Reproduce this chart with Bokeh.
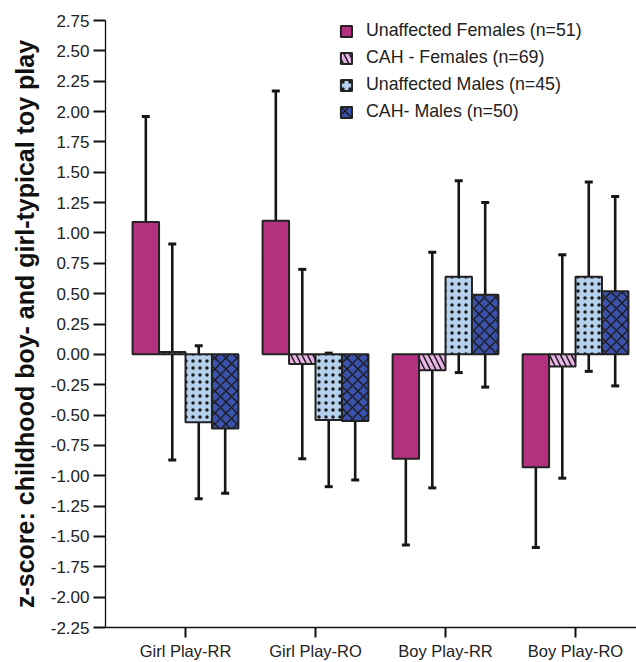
from bokeh.plotting import figure
from bokeh.models import ColumnDataSource, Whisker, TeeHead, Range1d, FixedTicker, NumeralTickFormatter
from bokeh.embed import file_html
from bokeh.resources import INLINE

# ---- data ----
categories = ["Girl Play-RR", "Girl Play-RO", "Boy Play-RR", "Boy Play-RO"]
series = ["Unaffected Females (n=51)", "CAH - Females (n=69)",
          "Unaffected Males (n=45)", "CAH- Males (n=50)"]

uf_mean = [1.09, 1.10, -0.86, -0.93]
uf_err = [0.87, 1.07, 0.71, 0.66]
cf_mean = [0.02, -0.08, -0.13, -0.10]
cf_err = [0.89, 0.78, 0.97, 0.92]
um_mean = [-0.56, -0.54, 0.64, 0.64]
um_err = [0.63, 0.55, 0.79, 0.78]
cm_mean = [-0.61, -0.55, 0.49, 0.52]
cm_err = [0.535, 0.485, 0.76, 0.78]

y_ticks = [-2.25, -2.0, -1.75, -1.5, -1.25, -1.0, -0.75, -0.5, -0.25, 0.0,
           0.25, 0.5, 0.75, 1.0, 1.25, 1.5, 1.75, 2.0, 2.25, 2.5, 2.75]

means = [uf_mean, cf_mean, um_mean, cm_mean]
errs = [uf_err, cf_err, um_err, cm_err]

styles = [
    dict(fill_color="#b4317f", hatch_pattern=None),
    dict(fill_color="#e9b3e6", hatch_pattern="left_diagonal_line", hatch_scale=11, hatch_weight=1.5),
    dict(fill_color="#b6d1ec", hatch_pattern="dot", hatch_scale=7, hatch_weight=1.1),
    dict(fill_color="#3b52ad", hatch_pattern="diagonal_cross", hatch_scale=11, hatch_weight=1.4),
]

bar_w = 0.2035
FONT = "Liberation Sans"

p = figure(width=636, height=662, output_backend="svg", toolbar_location=None,
           x_range=Range1d(-0.6154, 3.469), y_range=Range1d(-2.25, 2.75),
           min_border_left=105, min_border_right=0, min_border_top=20, min_border_bottom=34)

p.grid.visible = False
p.outline_line_color = None
p.background_fill_color = "white"

for j, (m, e, st) in enumerate(zip(means, errs, styles)):
    xs = [i + (j - 1.5) * bar_w for i in range(len(categories))]
    src = ColumnDataSource(dict(x=xs, top=m,
                                upper=[a + b for a, b in zip(m, e)],
                                lower=[a - b for a, b in zip(m, e)]))
    kw = dict(fill_color=st["fill_color"], line_color="#222222", line_width=2)
    if st["hatch_pattern"]:
        kw.update(hatch_pattern=st["hatch_pattern"], hatch_color="#1a1a1a",
                  hatch_scale=st["hatch_scale"], hatch_weight=st["hatch_weight"])
    p.vbar(x="x", top="top", bottom=0, width=bar_w, source=src,
           legend_label=series[j], **kw)
    w = Whisker(source=src, base="x", upper="upper", lower="lower",
                line_color="#161616", line_width=2.6,
                upper_head=TeeHead(size=8, line_width=3, line_color="#161616"),
                lower_head=TeeHead(size=8, line_width=3, line_color="#161616"))
    p.add_layout(w)

# axes
p.xaxis.ticker = FixedTicker(ticks=list(range(len(categories))))
p.xaxis.major_label_overrides = {i: c for i, c in enumerate(categories)}
p.xaxis.major_label_text_font = FONT
p.xaxis.major_label_text_font_size = "16.5px"
p.xaxis.major_label_text_color = "#222222"
p.xaxis.major_tick_out = 10
p.xaxis.major_tick_in = 0
p.xaxis.minor_tick_out = 0
p.xaxis.minor_tick_in = 0
p.xaxis.major_label_standoff = 4
p.xaxis.major_tick_line_width = 2
p.xaxis.axis_line_width = 1.3
p.xaxis.axis_line_color = "#111111"
p.xaxis.major_tick_line_color = "#111111"

p.yaxis.ticker = FixedTicker(ticks=y_ticks)
p.yaxis.formatter = NumeralTickFormatter(format="0.00")
p.yaxis.major_label_text_font = FONT
p.yaxis.major_label_text_font_size = "17px"
p.yaxis.major_label_text_color = "#222222"
p.yaxis.major_tick_out = 12
p.yaxis.major_tick_in = 0
p.yaxis.minor_tick_out = 0
p.yaxis.minor_tick_in = 0
p.yaxis.major_label_standoff = 4
p.yaxis.major_tick_line_width = 2
p.yaxis.axis_line_width = 1.3
p.yaxis.axis_line_color = "#111111"
p.yaxis.major_tick_line_color = "#111111"
p.yaxis.axis_label = "z-score: childhood boy- and girl-typical toy play"
p.yaxis.axis_label_text_font = FONT
p.yaxis.axis_label_text_font_style = "bold"
p.yaxis.axis_label_text_font_size = "25px"
p.yaxis.axis_label_text_color = "#111111"
p.yaxis.axis_label_standoff = 9

# legend
lg = p.legend[0]
lg.location = (234, 505)
lg.border_line_color = None
lg.background_fill_alpha = 0
lg.padding = 0
lg.margin = 0
lg.glyph_width = 14
lg.glyph_height = 14
lg.label_height = 20
lg.spacing = 6
lg.label_standoff = 13
lg.label_text_font = FONT
lg.label_text_font_size = "17.8px"
lg.label_text_color = "#222222"

open("out.html", "w").write(file_html(p, INLINE))
